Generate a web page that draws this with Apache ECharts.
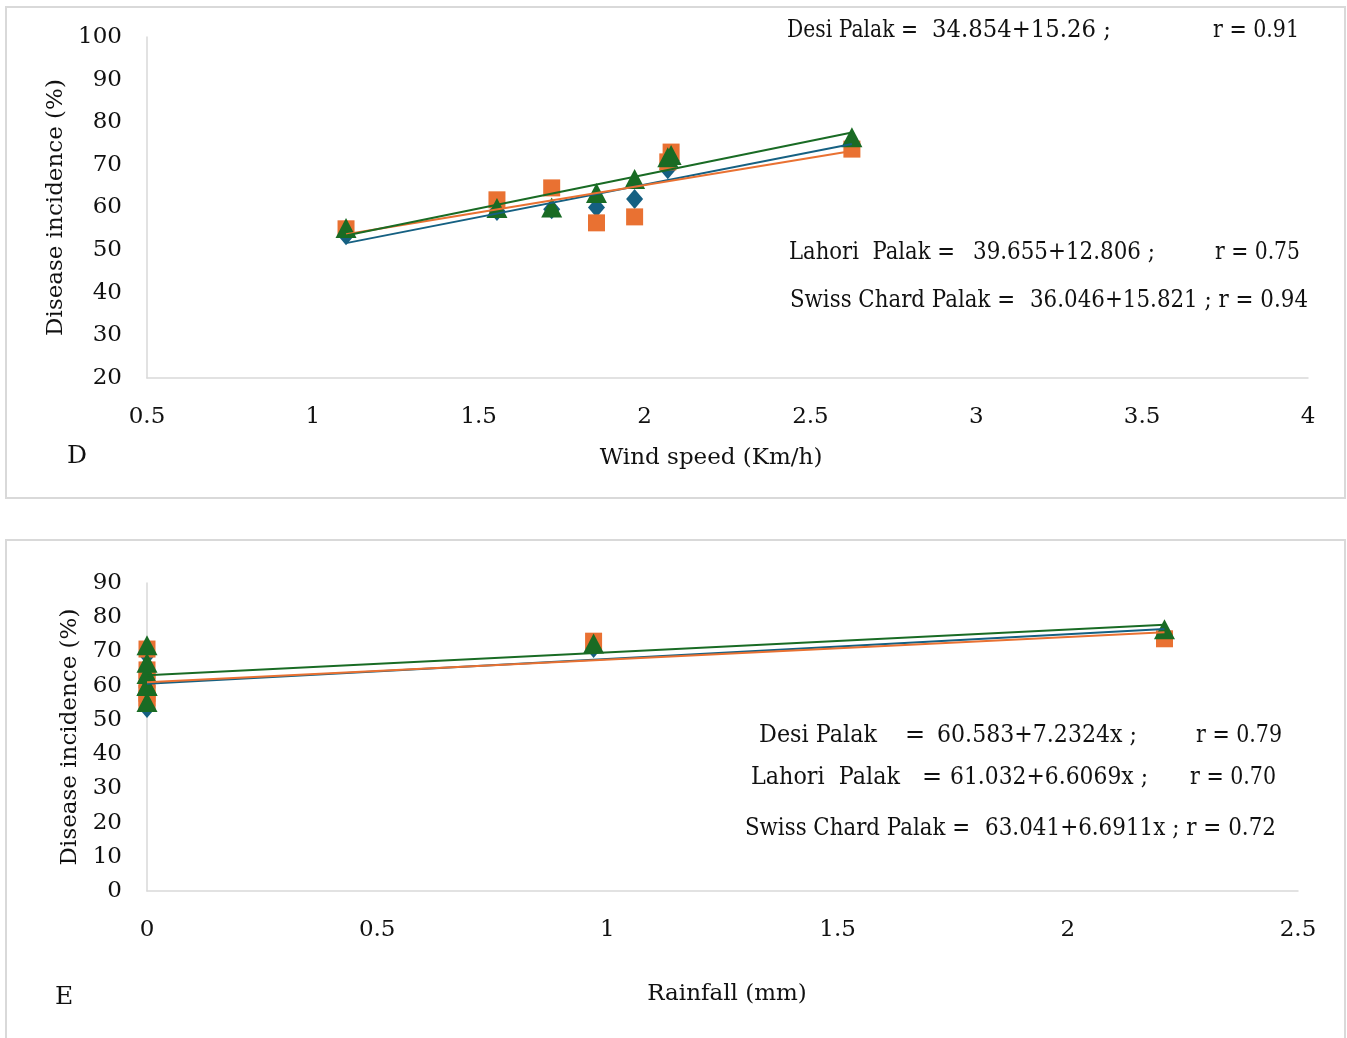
<!DOCTYPE html>
<html>
<head>
<meta charset="utf-8">
<script src="https://cdn.jsdelivr.net/npm/echarts@6/dist/echarts.min.js"></script>
<style>
html,body{margin:0;padding:0;background:#fff;}
#c{width:1347px;height:1038px;}
</style>
</head>
<body>
<div id="c"></div>
<script>
// ---- data ----
var seriesNames = ['Desi Palak', 'Lahori Palak', 'Swiss Chard Palak'];
var windSpeed = [1.1, 1.555, 1.72, 1.855, 1.97, 2.07, 2.08, 2.625];
var rainfall  = [0, 0, 0, 0, 0, 0, 0.97, 2.21];
var desiIncidence   = [53.5, 59.2, 59.6, 60.0, 62.0, 69.0, 71.0, 74.5];
var lahoriIncidence = [55.0, 61.8, 64.6, 56.4, 57.8, 70.7, 73.0, 73.7];
var swissIncidence  = [55.2, 59.9, 60.0, 63.4, 66.7, 71.8, 72.3, 76.5];
// trendline coefficients as printed on the chart [intercept, slope]
var windTrend = [[34.854, 15.26], [39.655, 12.806], [36.046, 15.821]];
var rainTrend = [[60.583, 7.2324], [61.032, 6.6069], [63.041, 6.6911]];
var windTicks = [0.5, 1, 1.5, 2, 2.5, 3, 3.5, 4];
var rainTicks = [0, 0.5, 1, 1.5, 2, 2.5];

var colors = ['#156082', '#E97132', '#196B24'];
var symbols = ['diamond', 'rect', 'triangle'];
var symbolSizes = [[17, 20], [17, 17], [21, 20]];
var FONT = 'DejaVu Serif';
var FS = 23;
var AFS = 24;
var TXT = '#111';

function pairs(xs, ys) { return xs.map(function (x, i) { return [x, ys[i]]; }); }
function trend(coef, xs) {
  var lo = Math.min.apply(null, xs), hi = Math.max.apply(null, xs);
  return [[lo, coef[0] + coef[1] * lo], [hi, coef[0] + coef[1] * hi]];
}
var allY = [desiIncidence, lahoriIncidence, swissIncidence];

var series = [];
[[windSpeed, windTrend, 0], [rainfall, rainTrend, 1]].forEach(function (cfg) {
  var xs = cfg[0], tr = cfg[1], g = cfg[2];
  for (var i = 0; i < 3; i++) {
    series.push({
      name: seriesNames[i], type: 'scatter', xAxisIndex: g, yAxisIndex: g,
      data: pairs(xs, allY[i]), symbol: symbols[i], symbolSize: symbolSizes[i],
      itemStyle: { color: colors[i], opacity: 1 }, z: 2 + i
    });
  }
  for (var j = 0; j < 3; j++) {
    series.push({
      name: seriesNames[j] + ' trend', type: 'line', xAxisIndex: g, yAxisIndex: g,
      data: trend(tr[j], xs), showSymbol: false, symbol: 'none',
      lineStyle: { color: colors[j], width: 2 }, z: 10, silent: true
    });
  }
});

var axisLine = { show: true, lineStyle: { color: '#d9d9d9', width: 1.5 } };
var lbl = { color: TXT, fontFamily: FONT, fontSize: FS };

var mctx = document.createElement('canvas').getContext('2d');
// text placed by its left edge; w = target width to fit the reference glyph widths
function t(x, y, text, w, size) {
  var font = (size || AFS) + 'px "' + FONT + '"';
  var sx = 1;
  if (w) {
    mctx.font = font;
    var m = mctx.measureText(text).width;
    if (m > 0) sx = Math.max(0.8, Math.min(1.1, w / m));
  }
  return { type: 'text', x: x, y: y + 2, scaleX: sx, silent: true,
    style: { text: text, fill: TXT, font: font,
      align: 'left', verticalAlign: 'middle',
      textAlign: 'left', textVerticalAlign: 'middle' } };
}

var option = {
  animation: false,
  backgroundColor: '#fff',
  grid: [
    { left: 147, top: 37, width: 1161, height: 341 },
    { left: 147, top: 583, width: 1151, height: 308 }
  ],
  xAxis: [
    { type: 'value', gridIndex: 0, min: windTicks[0], max: windTicks[windTicks.length - 1], interval: 0.5,
      axisLine: axisLine, axisTick: { show: false }, splitLine: { show: false },
      axisLabel: Object.assign({ margin: 28 }, lbl),
      name: 'Wind speed (Km/h)', nameLocation: 'middle', nameGap: 69,
      nameTextStyle: { color: TXT, fontFamily: FONT, fontSize: FS, padding: [0, 33, 0, 0] } },
    { type: 'value', gridIndex: 1, min: rainTicks[0], max: rainTicks[rainTicks.length - 1], interval: 0.5,
      axisLine: axisLine, axisTick: { show: false }, splitLine: { show: false },
      axisLabel: Object.assign({ margin: 28 }, lbl),
      name: 'Rainfall (mm)', nameLocation: 'middle', nameGap: 92,
      nameTextStyle: { color: TXT, fontFamily: FONT, fontSize: FS, padding: [0, 0, 0, 9] } }
  ],
  yAxis: [
    { type: 'value', gridIndex: 0, min: 20, max: 100, interval: 10,
      axisLine: axisLine, axisTick: { show: false }, splitLine: { show: false },
      axisLabel: Object.assign({ margin: 25, padding: [6, 0, 0, 0] }, lbl),
      name: 'Disease incidence (%)', nameLocation: 'middle', nameGap: 78,
      nameTextStyle: { color: TXT, fontFamily: FONT, fontSize: FS } },
    { type: 'value', gridIndex: 1, min: 0, max: 90, interval: 10,
      axisLine: axisLine, axisTick: { show: false }, splitLine: { show: false },
      axisLabel: Object.assign({ margin: 25, padding: [6, 0, 0, 0] }, lbl),
      name: 'Disease incidence (%)', nameLocation: 'middle', nameGap: 63,
      nameTextStyle: { color: TXT, fontFamily: FONT, fontSize: FS } }
  ],
  graphic: [
    { type: 'rect', shape: { x: 6, y: 7, width: 1339, height: 491 }, style: { fill: 'none', stroke: '#d9d9d9', lineWidth: 2 }, silent: true, z: -1 },
    { type: 'rect', shape: { x: 6, y: 540, width: 1339, height: 520 }, style: { fill: 'none', stroke: '#d9d9d9', lineWidth: 2 }, silent: true, z: -1 },
    t(67, 454, 'D', 0, 25),
    t(55, 995, 'E', 0, 25),
    t(787, 29, 'Desi Palak =', 131),
    t(932, 29, '34.854+15.26 ;', 179),
    t(1213, 29, 'r = 0.91', 86),
    t(789, 251, 'Lahori  Palak =', 166),
    t(973, 251, '39.655+12.806 ;', 182),
    t(1215, 251, 'r = 0.75', 85),
    t(790, 299, 'Swiss Chard Palak =', 225),
    t(1030, 299, '36.046+15.821 ; r = 0.94', 278),
    t(759, 734, 'Desi Palak', 118),
    t(905, 734, '=', 0),
    t(937, 734, '60.583+7.2324x ;', 200),
    t(1196, 734, 'r = 0.79', 86),
    t(751, 776, 'Lahori  Palak', 149),
    t(922, 776, '=', 0),
    t(950, 776, '61.032+6.6069x ;', 198),
    t(1190, 776, 'r = 0.70', 86),
    t(745, 827, 'Swiss Chard Palak =', 225),
    t(985, 827, '63.041+6.6911x ; r = 0.72', 291)
  ],
  series: series
};

var chart = echarts.init(document.getElementById('c'), null, { renderer: 'canvas' });
chart.setOption(option);
</script>
</body>
</html>
